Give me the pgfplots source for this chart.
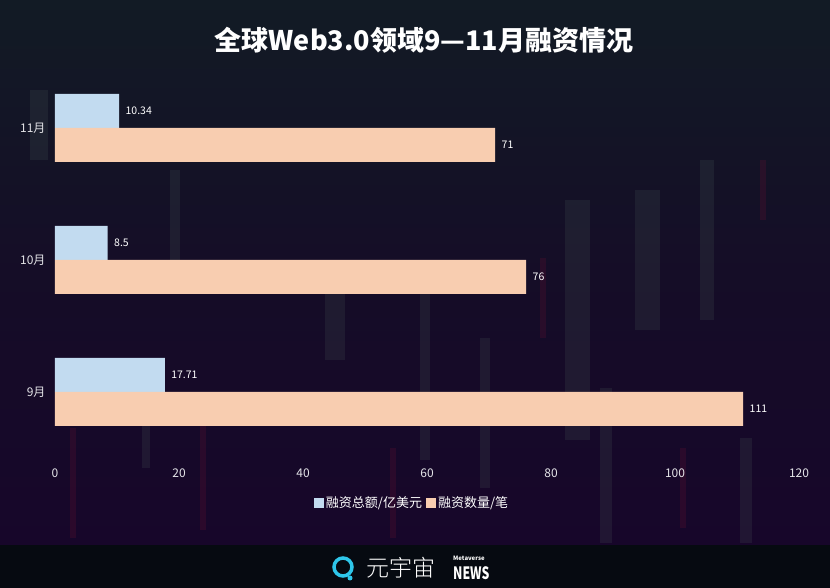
\documentclass[border=0pt]{standalone}
\usepackage{pgfplots}
\pgfplotsset{compat=1.18}
\usepackage{fontspec}
\setmainfont{Noto Sans CJK SC}
\newfontfamily\cjklight{Noto Sans CJK SC Light}
\definecolor{bgtop}{HTML}{121B25}
\definecolor{bgmid}{HTML}{150D27}
\definecolor{bgbot}{HTML}{17062A}
\definecolor{foot}{HTML}{060A11}
\definecolor{barblue}{HTML}{C2DBF0}
\definecolor{barpeach}{HTML}{F8CDB0}
\definecolor{ticktxt}{HTML}{E4E4E8}
\definecolor{logo}{HTML}{2EC6EA}
\definecolor{streak}{HTML}{4A5A58}
\definecolor{streakred}{HTML}{5A1030}
\pgfplotstableread{
y total count
0 17.71 111
1 8.5 76
2 10.34 71
}\datatable
\begin{document}
\begin{tikzpicture}
% background
\shade[top color=bgtop, bottom color=bgbot, middle color=bgmid] (0pt,43pt) rectangle (830pt,588pt);
\fill[foot] (0pt,0pt) rectangle (830pt,43pt);
% faint streaks
\begin{scope}[opacity=0.2]
\fill[streak] (325pt,228pt) rectangle (345pt,328pt);
\fill[streak] (565pt,148pt) rectangle (590pt,388pt);
\fill[streak] (635pt,258pt) rectangle (660pt,398pt);
\fill[streak] (700pt,268pt) rectangle (714pt,428pt);
\fill[streak] (30pt,428pt) rectangle (48pt,498pt);
\fill[streak] (170pt,328pt) rectangle (180pt,418pt);
\fill[streak] (420pt,128pt) rectangle (430pt,298pt);
\fill[streak] (142pt,120pt) rectangle (150pt,200pt);
\fill[streak] (480pt,100pt) rectangle (490pt,250pt);
\fill[streak] (600pt,45pt) rectangle (612pt,200pt);
\fill[streak] (740pt,45pt) rectangle (752pt,150pt);
\end{scope}
\begin{scope}[opacity=0.3]
\fill[streakred] (760pt,368pt) rectangle (766pt,428pt);
\fill[streakred] (200pt,58pt) rectangle (206pt,188pt);
\fill[streakred] (70pt,50pt) rectangle (76pt,160pt);
\fill[streakred] (390pt,50pt) rectangle (396pt,140pt);
\fill[streakred] (540pt,250pt) rectangle (546pt,330pt);
\fill[streakred] (680pt,60pt) rectangle (686pt,140pt);
\end{scope}
% title
\node[text=white, font=\fontsize{27}{31}\selectfont\bfseries] at (424pt,548pt) {全球Web3.0领域9—11月融资情况};
% chart
\begin{axis}[
  at={(55pt,130pt)}, anchor=south west,
  width=744pt, height=396pt, scale only axis,
  xbar, bar width=34pt,
  xmin=0, xmax=120, ymin=-0.5, ymax=2.5,
  xtick={0,20,...,120},
  ytick={0,1,2}, yticklabels={9月,10月,11月},
  axis line style={draw=none},
  major tick length=0pt,
  tick label style={text=ticktxt, font=\fontsize{12}{14}\selectfont},
  xticklabel style={yshift=-7pt},
  yticklabel style={xshift=-6pt},
  /pgf/number format/assume math mode=true,
  nodes near coords,
  nodes near coords style={text=white, font=\fontsize{10.5}{12}\selectfont, xshift=3pt},
  legend columns=2,
  legend style={at={(0.5,0)}, anchor=center, xshift=-15pt, yshift=-45pt,
    draw=none, fill=none, text=white, font=\fontsize{13}{15}\selectfont,
    /tikz/every even column/.append style={column sep=2pt}},
  legend image code/.code={\fill[#1] (0pt,-5pt) rectangle (10pt,5pt);},
  clip=false,
]
\addplot[fill=barblue, draw=none, bar shift=17pt] table[x=total, y=y] {\datatable};
\addplot[fill=barpeach, draw=none, bar shift=-17pt] table[x=count, y=y] {\datatable};
\legend{融资总额/亿美元, 融资数量/笔}
\end{axis}
% footer logo
\draw[logo, line width=3.5pt] (343pt,21pt) circle (9pt);
\fill[logo] (350pt,10pt) circle (2.5pt);
\node[text=white, font=\fontsize{23}{24}\selectfont\cjklight, anchor=west, inner sep=0pt] at (366pt,20pt) {元宇宙};
\node[text=white, font=\fontsize{6}{6}\selectfont\bfseries, anchor=west, inner sep=0pt] at (453pt,30pt) {Metaverse};
\node[text=white, font=\fontsize{17}{17}\selectfont\bfseries, anchor=west, inner sep=0pt, xscale=0.72] at (453pt,15pt) {NEWS};
\end{tikzpicture}
\end{document}
